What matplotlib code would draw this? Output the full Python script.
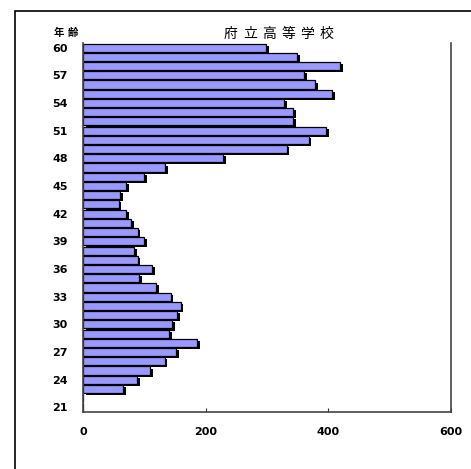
import numpy as np
import matplotlib.pyplot as plt
import matplotlib.patheffects as pe
from matplotlib.patches import Rectangle

plt.rcParams['font.family'] = ['DejaVu Sans', 'Noto Sans CJK JP']

# ages 21..60 and teacher counts (21, 22 empty)
ages = list(range(21, 61))
counts = [0, 0, 65, 88, 109, 133, 152, 186, 140, 145,
          153, 159, 143, 119, 92, 113, 89, 83, 100, 89,
          78, 70, 58, 61, 70, 100, 134, 228, 332, 368,
          397, 342, 342, 328, 406, 378, 361, 419, 349, 298]
tick_ages = [21, 24, 27, 30, 33, 36, 39, 42, 45, 48, 51, 54, 57, 60]
x_ticks = [0, 200, 400, 600]
title = '府立高等学校'
ylabel = '年齢'

fig = plt.figure(figsize=(4.71, 4.69), dpi=100)
ax = fig.add_axes([83/471, 57/469, 368/471, 369/469])

y = np.arange(len(ages))
bars = ax.barh(y, counts, height=0.88, color='#9999ff', edgecolor='black', linewidth=0.9)
for b in bars:
    b.set_path_effects([pe.SimplePatchShadow(offset=(2, -1.5), shadow_rgbFace='black', alpha=1.0),
                        pe.Normal()])

ax.set_xlim(0, 600)
ax.set_ylim(-0.5, len(ages) - 0.5)
ax.set_xticks(x_ticks)
ax.set_xticklabels([str(v) for v in x_ticks], fontsize=8, fontweight='bold')
ax.set_yticks([ages.index(a) for a in tick_ages])
ax.set_yticklabels([str(a) for a in tick_ages], fontsize=8, fontweight='bold')
ax.tick_params(axis='x', direction='in', length=3, pad=11, color='#333333')
ax.tick_params(axis='y', length=0, pad=11)

ax.spines['top'].set_visible(False)
for s in ['left', 'bottom', 'right']:
    ax.spines[s].set_color('#444444')
    ax.spines[s].set_linewidth(1.2)

# widely spaced heading characters, like the original
for i, ch in enumerate(title):
    fig.text((231 + i * 19) / 471, 1 - 34/469, ch, ha='center', va='center', fontsize=10,
             family=['Noto Sans CJK JP'])
for i, ch in enumerate(ylabel):
    fig.text((59 + i * 14) / 471, 1 - 33/469, ch, ha='center', va='center', fontsize=7.5,
             family=['Noto Sans CJK JP'], fontweight='bold')

# outer chart frame
fig.patches.append(Rectangle((15/471, -0.1), 1.1, 1.1 - 11/469, transform=fig.transFigure,
                             fill=False, edgecolor='black', linewidth=1.2))

fig.savefig('out.png', dpi=100)
